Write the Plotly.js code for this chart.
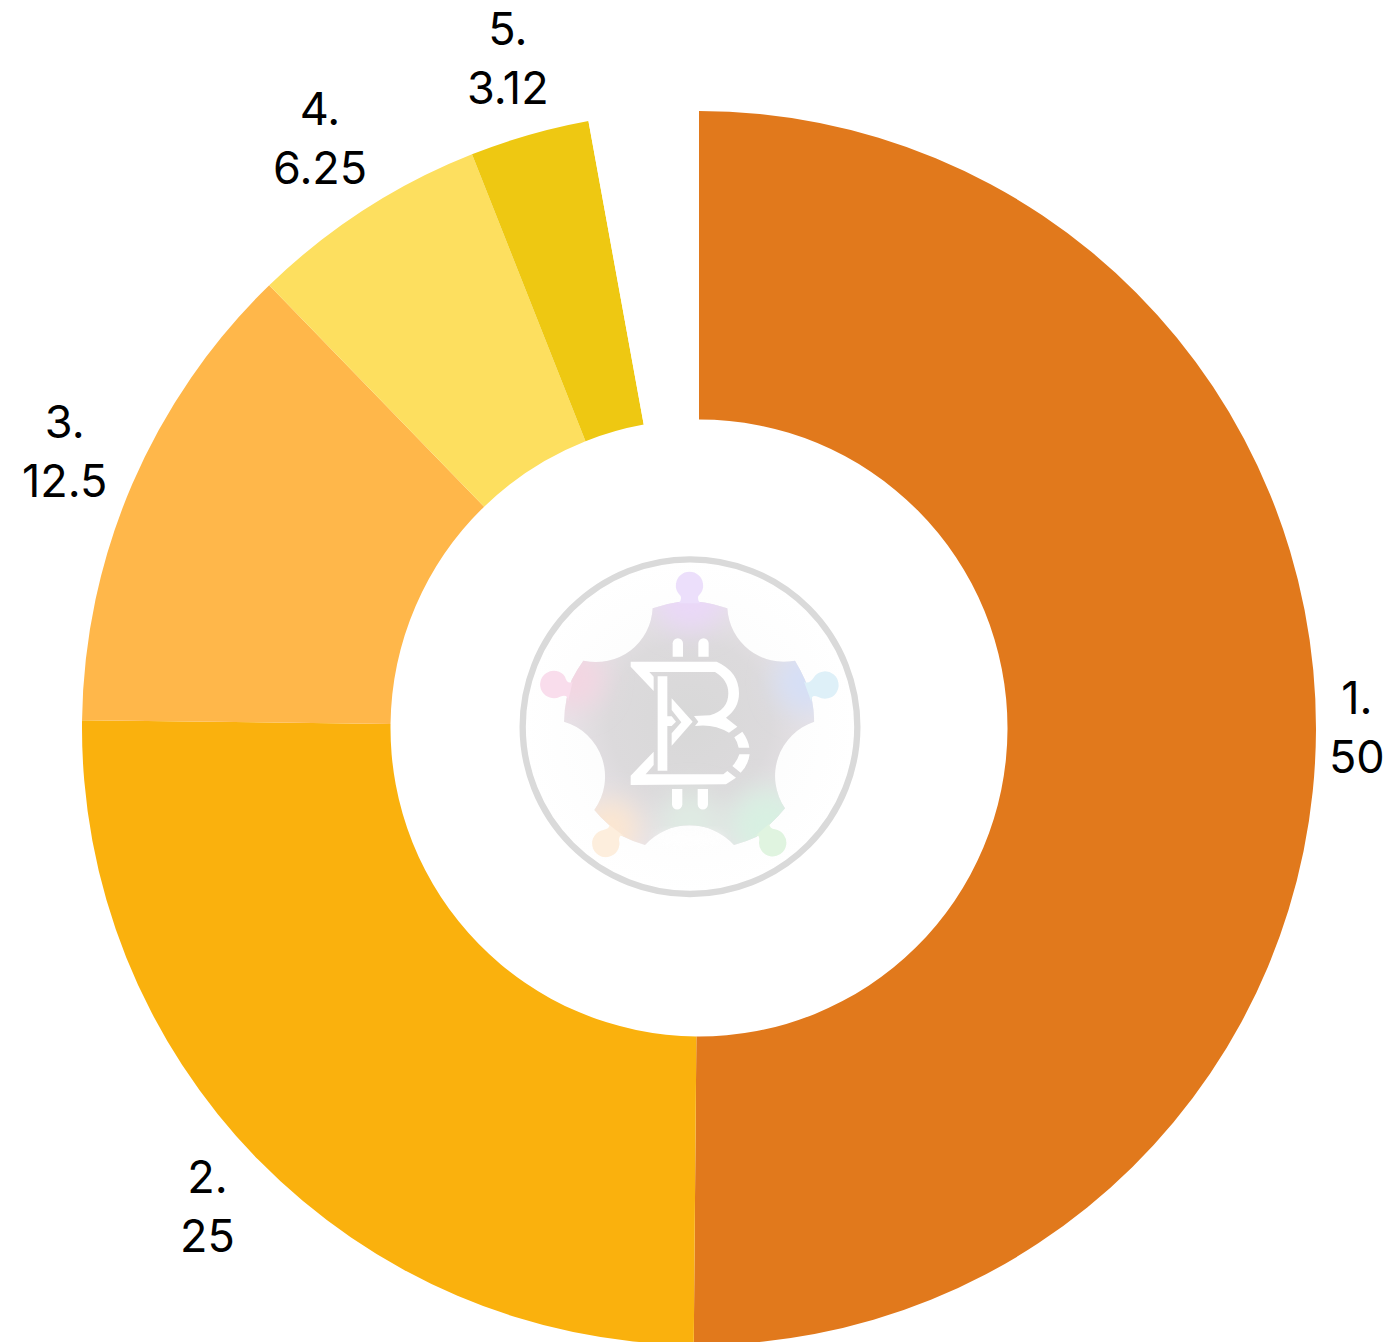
<!DOCTYPE html>
<html><head><meta charset="utf-8">
<script src="https://cdn.plot.ly/plotly-3.0.1.min.js"></script>
<style>html,body{margin:0;padding:0;overflow:hidden;background:#fff}</style></head>
<body><div id="c" style="width:1383px;height:1400px"></div>
<script>
const categories=["1.","2.","3.","4.","5.",""];
const values=[50,25,12.5,6.25,3.12,2.86];
const valueLabels=["50","25","12.5","6.25","3.12",""];
const colors=["#E1791C","#FAB10D","#FFB74A","#FDDF5F","#EEC812","#FFFFFF"];
const W=1383,H=1400;
const cx=699,cy=728,R=617;
const FONT={family:"Inter, sans-serif",size:45,color:"#000"};

// Labels sit just off the rim at each slice's mid angle, computed from the values.
const total=values.reduce((a,b)=>a+b,0);
let acc=0;
const annotations=[];
values.forEach((v,i)=>{
  const th=(acc+v/2)/total*2*Math.PI; acc+=v;
  if(!categories[i]) return;
  const hw=valueLabels[i].length*7+17, hh=56;
  const r=R+10+Math.abs(Math.sin(th))*hw+Math.abs(Math.cos(th))*hh;
  annotations.push({xref:"paper",yref:"paper",xanchor:"center",yanchor:"middle",showarrow:false,
    x:(cx+r*Math.sin(th))/W, y:1-(cy-3.5-r*Math.cos(th))/H,
    text:categories[i]+"<br>"+valueLabels[i],font:FONT,align:"center"});
});

// Centre emblem, as an inline SVG picture (drawn in a 1080-unit box)
const emblem=`<svg xmlns="http://www.w3.org/2000/svg" width="360" height="360" viewBox="0 0 1080 1080">
<defs>
<radialGradient id="g" cx="540" cy="530" r="440" gradientUnits="userSpaceOnUse">
<stop offset="0" stop-color="#d8d8d8"/><stop offset="0.55" stop-color="#dcdadc"/><stop offset="1" stop-color="#ece6ec"/></radialGradient>
<radialGradient id="bg" cx="540" cy="545" r="500" gradientUnits="userSpaceOnUse">
<stop offset="0" stop-color="#f4f5f5"/><stop offset="1" stop-color="#ffffff"/></radialGradient>
<filter id="b" x="-60%" y="-60%" width="220%" height="220%"><feGaussianBlur stdDeviation="38"/></filter>
<filter id="s" x="-30%" y="-30%" width="160%" height="160%"><feGaussianBlur stdDeviation="14"/></filter>
<clipPath id="cp"><path d="M565 170 Q610 175 652 190 A170 170 0 0 0 855 347 Q872 375 885 405 L905 460 Q912 495 913 530 A172 172 0 0 0 825 790 Q805 815 780 838 L740 875 Q708 890 672 900 A180 180 0 0 0 405 900 Q370 890 335 872 L295 838 Q272 818 253 795 A172 172 0 0 0 162 530 Q163 495 170 460 L185 405 Q200 375 220 347 A170 170 0 0 0 428 190 Q470 175 510 170 Z"/></clipPath>
</defs>
<circle cx="540" cy="545" r="500" fill="url(#bg)" opacity="0.5"/>
<circle cx="540" cy="545" r="502" fill="none" stroke="#dadada" stroke-width="19"/>
<g clip-path="url(#cp)">
<rect width="1080" height="1080" fill="url(#g)"/>
<g filter="url(#b)">
<circle cx="540" cy="150" r="110" fill="#ead8f8"/>
<circle cx="190" cy="400" r="95" fill="#f3d6e2"/>
<circle cx="890" cy="410" r="95" fill="#d6dff6"/>
<circle cx="300" cy="850" r="85" fill="#fce6d0"/>
<circle cx="770" cy="840" r="110" fill="#d8f0e2"/>
<circle cx="540" cy="830" r="90" fill="#dfebe3"/>
</g></g>
<path d="M505 175 Q522 160 505 145 A41 41 0 1 1 572 145 Q555 160 572 175 Z" fill="#ecdffb"/>
<path d="M188 410 Q172 420 165 395 A41 41 0 1 0 150 455 Q175 445 174 470 Z" fill="#f9ddec"/>
<path d="M882 410 Q898 420 915 392 A41 41 0 1 1 925 456 Q903 445 904 470 Z" fill="#def0f8"/>
<path d="M298 840 Q300 850 280 855 A41 41 0 1 0 327 885 Q328 865 345 875 Z" fill="#fdeedd"/>
<path d="M778 836 Q778 850 795 853 A41 41 0 1 1 748 885 Q748 865 733 875 Z" fill="#e0f4e0"/>
<g filter="url(#s)" opacity="0.55" fill="#ffffff">
<ellipse cx="540" cy="880" rx="105" ry="22"/>
</g>
<g fill="#ffffff">
<path d="M362 350 L620 350 Q687 380 687 445 Q687 490 648 518 L682 545 L657 563 Q610 535 555 543 L565 530 L552 513 L600 511 Q655 495 655 445 Q655 405 615 381 L418 381 L431 395 L431 438 L362 365 Z"/>
<path d="M443 394 L472 394 L472 514 L485 514 L498 530 L485 543 L472 543 L472 677 L443 677 Z"/>
<path d="M485 460 L548 530 L485 602 L485 565 L514 532 L485 495 Z"/>
<path d="M431 620 L431 660 L407 688 L640 688 L652 678 L678 698 L648 718 L362 720 L362 692 Z"/>
<path d="M697 560 Q715 585 718 608 L686 608 Q682 590 673 577 Z"/>
<path d="M688 628 L719 628 Q715 660 692 683 L667 663 Q682 648 688 628 Z"/>
<path d="M488 335 L488 295 A15.5 15.5 0 0 1 519 295 L519 335 Z"/>
<path d="M565 335 L565 295 A15.5 15.5 0 0 1 596 295 L596 335 Z"/>
<path d="M486 732 L517 732 L517 778 A15.5 15.5 0 0 1 486 778 Z"/>
<path d="M563 732 L594 732 L594 778 A15.5 15.5 0 0 1 563 778 Z"/>
</g></svg>`;

Plotly.newPlot("c",[{type:"pie",labels:categories.map((c,i)=>c||"gap"),values:values,textinfo:"none",
 hole:0.5,sort:false,direction:"clockwise",rotation:0,
 marker:{colors:colors,line:{width:0}},showlegend:false,hoverinfo:"skip",
 domain:{x:[(cx-R)/W,(cx+R)/W],y:[1-(cy+R)/H,1-(cy-R)/H]}}],
 {width:W,height:H,margin:{l:0,r:0,t:0,b:0},paper_bgcolor:"#fff",showlegend:false,annotations:annotations,
  images:[{source:"data:image/svg+xml;charset=utf-8,"+encodeURIComponent(emblem),xref:"paper",yref:"paper",
    x:510/W,y:1-545/H,sizex:360/W,sizey:360/H,xanchor:"left",yanchor:"top",sizing:"stretch",layer:"above"}]},
 {staticPlot:true,displayModeBar:false});
</script></body></html>
